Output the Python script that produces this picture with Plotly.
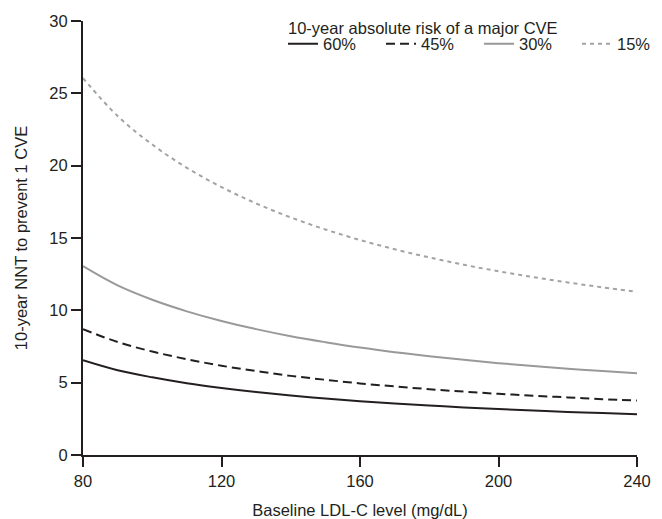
import plotly.graph_objects as go

# Baseline LDL-C (mg/dL)
ldl = [80, 90, 100, 110, 120, 130, 140, 150, 160, 170, 180, 190, 200, 210, 220, 230, 240]

# 10-year NNT to prevent 1 CVE
nnt_60 = [6.55, 5.86, 5.37, 4.96, 4.63, 4.35, 4.11, 3.90, 3.72, 3.56, 3.42, 3.29, 3.18, 3.08, 2.98, 2.90, 2.82]
nnt_45 = [8.70, 7.81, 7.15, 6.62, 6.17, 5.80, 5.47, 5.20, 4.95, 4.74, 4.55, 4.38, 4.23, 4.10, 3.98, 3.86, 3.76]
nnt_30 = [13.05, 11.72, 10.73, 9.93, 9.26, 8.70, 8.21, 7.80, 7.43, 7.11, 6.83, 6.58, 6.35, 6.15, 5.97, 5.80, 5.65]
nnt_15 = [26.05, 23.43, 21.46, 19.85, 18.52, 17.39, 16.42, 15.59, 14.86, 14.22, 13.66, 13.15, 12.70, 12.30, 11.93, 11.59, 11.29]

series_names = ["60%", "45%", "30%", "15%"]
series_vals = [nnt_60, nnt_45, nnt_30, nnt_15]
colors = ["#231f20", "#231f20", "#999999", "#a3a3a3"]
dashes = ["solid", "9px,5px", "solid", "4px,4px"]

x_ticks = [80, 120, 160, 200, 240]
y_ticks = [0, 5, 10, 15, 20, 25, 30]

legend_title = "10-year absolute risk of a major CVE"

FONT = "Liberation Sans, Arial, sans-serif"
INK = "#231f20"
FS = 16.5

fig = go.Figure()
for name, vals, c, d in zip(series_names, series_vals, colors, dashes):
    fig.add_trace(go.Scatter(
        x=ldl, y=vals, name=name, mode="lines",
        line=dict(color=c, dash=d, width=2, shape="spline", smoothing=1.0),
    ))

fig.add_annotation(
    text=legend_title, xref="paper", yref="paper",
    x=0.366, y=0.985, xanchor="left", yanchor="middle",
    showarrow=False, font=dict(size=FS, family=FONT, color=INK),
)

# page body adds an 8px offset, so margins are set relative to it
fig.update_layout(
    width=654, height=511,
    margin=dict(l=75, r=25, t=13, b=64, autoexpand=False),
    paper_bgcolor="white", plot_bgcolor="white",
    font=dict(family=FONT, size=FS, color=INK),
    showlegend=True,
    legend=dict(
        orientation="h",
        x=0.361, xanchor="left",
        y=0.987, yanchor="top",
        font=dict(size=FS, family=FONT, color=INK),
        entrywidth=53, entrywidthmode="pixels",
        bgcolor="rgba(0,0,0,0)",
        tracegroupgap=0,
    ),
    xaxis=dict(
        range=[80, 240], tickvals=x_ticks, ticktext=[str(v) for v in x_ticks],
        showgrid=False, zeroline=False, automargin=False,
        showline=True, linecolor=INK, linewidth=2,
        ticks="outside", ticklen=10, tickwidth=2, tickcolor=INK,
        tickfont=dict(size=FS, family=FONT, color=INK),
        title=dict(text="Baseline LDL-C level (mg/dL)",
                   font=dict(size=FS, family=FONT, color=INK), standoff=16),
    ),
    yaxis=dict(
        range=[0, 30], tickvals=y_ticks, ticktext=[str(v) for v in y_ticks],
        showgrid=False, zeroline=False, automargin=False,
        showline=True, linecolor=INK, linewidth=2,
        ticks="outside", ticklen=10, tickwidth=2, tickcolor=INK,
        tickfont=dict(size=FS, family=FONT, color=INK),
        title=dict(text="10-year NNT to prevent 1 CVE",
                   font=dict(size=FS, family=FONT, color=INK), standoff=18),
    ),
)

fig.write_html("out.html")
